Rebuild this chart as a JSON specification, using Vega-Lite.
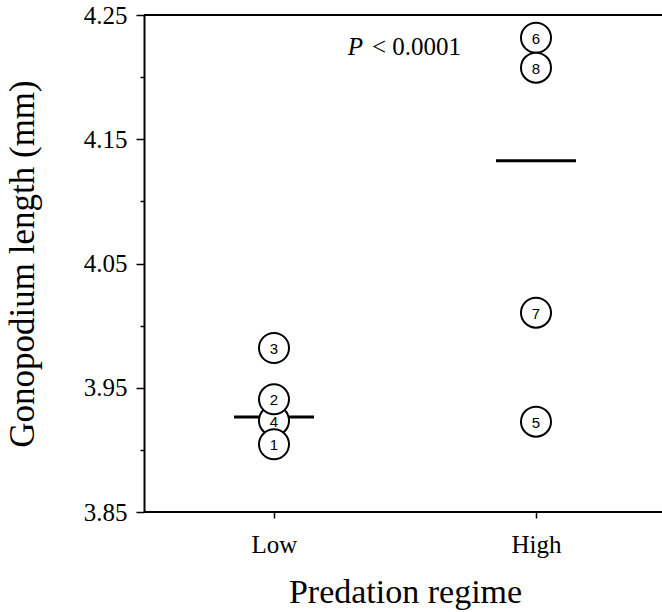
{
  "$schema": "https://vega.github.io/schema/vega-lite/v6.json",
  "autosize": {"type": "none"},
  "padding": {"left": 144, "top": 15, "right": 0, "bottom": 100},
  "width": 518,
  "height": 497,
  "background": "white",
  "config": {
    "view": {"stroke": null},
    "font": "Liberation Serif",
    "axis": {"labelFont": "Liberation Serif", "titleFont": "Liberation Serif", "titleFontWeight": "normal", "labelColor": "black", "titleColor": "black"},
    "text": {"font": "Liberation Serif"}
  },
  "datasets": {
    "points": [
      {"regime": "Low", "id": "1", "length": 3.9045},
      {"regime": "Low", "id": "2", "length": 3.9407},
      {"regime": "Low", "id": "3", "length": 3.982},
      {"regime": "Low", "id": "4", "length": 3.9235},
      {"regime": "High", "id": "5", "length": 3.9227},
      {"regime": "High", "id": "6", "length": 4.2317},
      {"regime": "High", "id": "7", "length": 4.0104},
      {"regime": "High", "id": "8", "length": 4.2076}
    ],
    "means": [
      {"regime": "Low", "length": 3.9265},
      {"regime": "High", "length": 4.1327}
    ],
    "frame": [
      {"length": 3.85},
      {"length": 4.25}
    ],
    "annotation": [
      {"length": 4.2178}
    ]
  },
  "layer": [
    {
      "data": {"name": "frame"},
      "mark": {"type": "rule", "color": "black", "strokeWidth": 2},
      "encoding": {
        "y": {
          "field": "length",
          "type": "quantitative",
          "scale": {"domain": [3.85, 4.25], "nice": false, "zero": false},
          "axis": {
            "title": "Gonopodium length (mm)",
            "titleFont": "Liberation Serif",
            "titleFontSize": 35,
            "titleFontWeight": "normal",
            "titleColor": "black",
            "titlePadding": 43,
            "values": [3.85, 3.9, 3.95, 4.0, 4.05, 4.1, 4.15, 4.2, 4.25],
            "format": ".2f",
            "labelExpr": "round(datum.value*100) % 10 == 5 ? datum.label : ''",
            "labelFont": "Liberation Serif",
            "labelFontSize": 25,
            "labelColor": "black",
            "labelPadding": 9,
            "tickColor": "black",
            "tickWidth": 1.5,
            "tickSize": {"condition": {"test": "round(datum.value*100) % 10 == 5", "value": 8}, "value": 4},
            "domainColor": "black",
            "domainWidth": 2,
            "grid": false
          }
        }
      }
    },
    {
      "data": {"name": "means"},
      "mark": {"type": "tick", "color": "black", "thickness": 3, "size": 80, "opacity": 1},
      "encoding": {
        "x": {
          "field": "regime",
          "type": "nominal",
          "sort": ["Low", "High"],
          "scale": {"type": "point", "range": [130, 392], "padding": 0},
          "axis": {
            "title": "Predation regime",
            "titleFont": "Liberation Serif",
            "titleFontSize": 34,
            "titleFontWeight": "normal",
            "titleColor": "black",
            "titlePadding": 18,
            "labelFont": "Liberation Serif",
            "labelFontSize": 25,
            "labelColor": "black",
            "labelAngle": 0,
            "labelPadding": 14,
            "tickColor": "black",
            "tickWidth": 1.5,
            "tickSize": 6,
            "domain": false,
            "grid": false
          }
        },
        "y": {"field": "length", "type": "quantitative"}
      }
    },
    {
      "data": {"name": "points"},
      "transform": [{"filter": "datum.id == '4'"}],
      "mark": {"type": "circle", "size": 900, "fill": "white", "stroke": "black", "strokeWidth": 2, "opacity": 1},
      "encoding": {
        "x": {"field": "regime", "type": "nominal", "sort": ["Low", "High"]},
        "y": {"field": "length", "type": "quantitative"}
      }
    },
    {
      "data": {"name": "points"},
      "transform": [{"filter": "datum.id == '4'"}],
      "mark": {"type": "text", "font": "Liberation Sans", "fontSize": 15, "color": "black", "align": "center", "baseline": "middle", "dy": 1},
      "encoding": {
        "x": {"field": "regime", "type": "nominal", "sort": ["Low", "High"]},
        "y": {"field": "length", "type": "quantitative"},
        "text": {"field": "id"}
      }
    },
    {
      "data": {"name": "points"},
      "transform": [{"filter": "datum.id != '4'"}],
      "mark": {"type": "circle", "size": 900, "fill": "white", "stroke": "black", "strokeWidth": 2, "opacity": 1},
      "encoding": {
        "x": {"field": "regime", "type": "nominal", "sort": ["Low", "High"]},
        "y": {"field": "length", "type": "quantitative"}
      }
    },
    {
      "data": {"name": "points"},
      "transform": [{"filter": "datum.id != '4'"}],
      "mark": {"type": "text", "font": "Liberation Sans", "fontSize": 15, "color": "black", "align": "center", "baseline": "middle", "dy": 1},
      "encoding": {
        "x": {"field": "regime", "type": "nominal", "sort": ["Low", "High"]},
        "y": {"field": "length", "type": "quantitative"},
        "text": {"field": "id"}
      }
    },
    {
      "data": {"name": "annotation"},
      "mark": {"type": "text", "text": "P", "font": "Liberation Serif", "fontStyle": "italic", "fontSize": 25, "color": "black", "align": "right", "baseline": "alphabetic", "dx": -40},
      "encoding": {
        "y": {"field": "length", "type": "quantitative"}
      }
    },
    {
      "data": {"name": "annotation"},
      "mark": {"type": "text", "text": "< 0.0001", "font": "Liberation Serif", "fontSize": 25, "color": "black", "align": "left", "baseline": "alphabetic", "dx": -31},
      "encoding": {
        "y": {"field": "length", "type": "quantitative"}
      }
    }
  ]
}
